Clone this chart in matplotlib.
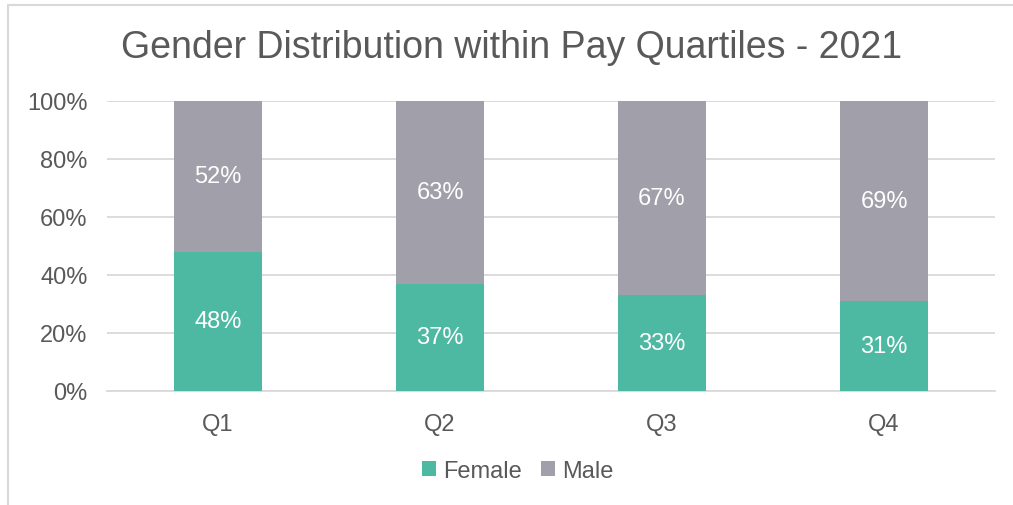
import numpy as np
import matplotlib.pyplot as plt
from matplotlib.patches import Rectangle

quartiles = ['Q1', 'Q2', 'Q3', 'Q4']
female = [48, 37, 33, 31]
male = [52, 63, 67, 69]

teal = '#4db9a2'
grey = '#a19faa'
txt = '#595959'

plt.rcParams['font.family'] = ['Liberation Sans', 'DejaVu Sans']

W, H = 1013, 506
fig = plt.figure(figsize=(W / 100, H / 100), dpi=100)

# light frame around the chart
fig.patches.append(Rectangle((7.5 / W, -0.1), 1.2, (H - 5.5) / H + 0.1,
                             transform=fig.transFigure, fill=False,
                             edgecolor='#d9d9d9', linewidth=1.5))

ax = fig.add_axes([107 / W, 1 - 392 / H, (995 - 107) / W, (392 - 102) / H])
x = np.arange(len(quartiles))
bw = 0.4
ax.bar(x, female, bw, color=teal, label='Female', zorder=3)
ax.bar(x, male, bw, bottom=female, color=grey, label='Male', zorder=3)

for i in range(len(x)):
    ax.text(x[i], female[i] / 2, f'{female[i]}%', ha='center', va='center',
            color='white', fontsize=17)
    ax.text(x[i], female[i] + male[i] / 2, f'{male[i]}%', ha='center', va='center',
            color='white', fontsize=17)

ax.set_xlim(-0.5, len(x) - 0.5)
ax.set_ylim(0, 100)
ax.set_yticks(np.arange(0, 101, 20))
ax.set_yticklabels([f'{v}%' for v in range(0, 101, 20)])
ax.set_xticks(x)
ax.set_xticklabels(quartiles)
ax.tick_params(length=0, labelsize=17, labelcolor=txt)
ax.tick_params(axis='y', pad=14)
ax.tick_params(axis='x', pad=16)
ax.grid(axis='y', color='#d9d9d9', linewidth=1.3, zorder=0)
for s in ['top', 'right', 'left']:
    ax.spines[s].set_visible(False)
ax.spines['bottom'].set_color('#d9d9d9')
ax.spines['bottom'].set_linewidth(1.3)

fig.text(512 / W, 1 - 48 / H, 'Gender Distribution within Pay Quartiles - 2021',
         ha='center', va='center', fontsize=27, color=txt)

fig.legend(loc='center', bbox_to_anchor=(518 / W, 1 - 472 / H), ncol=2, frameon=False,
           fontsize=17, labelcolor=txt, handlelength=0.6, handleheight=0.6,
           handletextpad=0.3, columnspacing=0.8)

fig.savefig('out.png', dpi=100)
